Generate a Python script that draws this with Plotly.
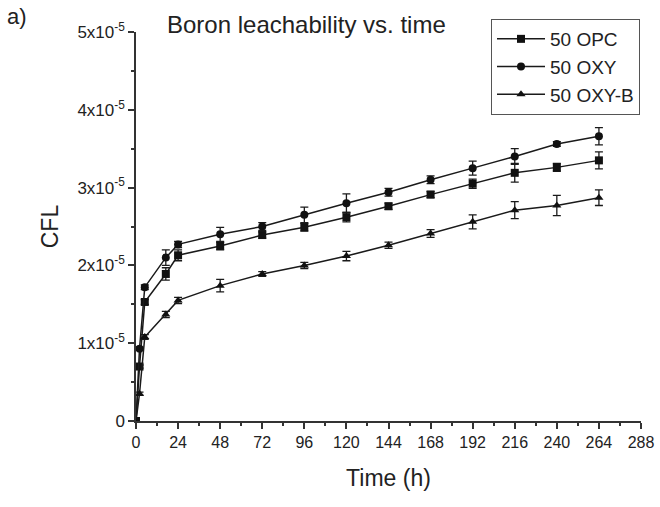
import plotly.graph_objects as go

time_h = [0, 2, 5, 17, 24, 48, 72, 96, 120, 144, 168, 192, 216, 240, 264]

opc = [0, 0.70, 1.53, 1.89, 2.13, 2.25, 2.39, 2.49, 2.62, 2.76, 2.91, 3.05, 3.19, 3.26, 3.35]
opc_err = [0, 0.02, 0.03, 0.08, 0.07, 0.05, 0.04, 0.05, 0.06, 0.04, 0.04, 0.06, 0.12, 0.05, 0.11]

oxy = [0, 0.93, 1.72, 2.10, 2.27, 2.40, 2.50, 2.65, 2.80, 2.94, 3.10, 3.25, 3.40, 3.56, 3.66]
oxy_err = [0, 0.02, 0.03, 0.10, 0.04, 0.09, 0.05, 0.10, 0.12, 0.05, 0.05, 0.09, 0.10, 0.03, 0.11]

oxyb = [0, 0.35, 1.08, 1.37, 1.55, 1.74, 1.89, 2.00, 2.12, 2.26, 2.41, 2.56, 2.71, 2.77, 2.87]
oxyb_err = [0, 0.02, 0.03, 0.04, 0.04, 0.08, 0.03, 0.04, 0.06, 0.04, 0.05, 0.09, 0.11, 0.13, 0.10]

scale = 1e-5
y_tickvals = [0, 1e-5, 2e-5, 3e-5, 4e-5, 5e-5]
y_ticktext = ["0", "1x10<sup>-5</sup>", "2x10<sup>-5</sup>", "3x10<sup>-5</sup>",
              "4x10<sup>-5</sup>", "5x10<sup>-5</sup>"]
x_tickvals = list(range(0, 289, 24))

series = [
    ("50 OPC", opc, opc_err, "square"),
    ("50 OXY", oxy, oxy_err, "circle"),
    ("50 OXY-B", oxyb, oxyb_err, "triangle-up"),
]

fig = go.Figure()
for name, vals, errs, sym in series:
    fig.add_trace(go.Scatter(
        x=time_h, y=[v * scale for v in vals], name=name,
        mode="lines+markers",
        line=dict(color="#1a1a1a", width=1.5),
        marker=dict(symbol=sym, size=8, color="#111111"),
        error_y=dict(type="data", array=[e * scale for e in errs], visible=True,
                     color="#1a1a1a", thickness=1.3, width=4),
    ))

font = "Liberation Sans, Arial, sans-serif"
L, R, T, B = 136, 19, 32, 86
W, H = 660, 507
pw, ph = W - L - R, H - T - B


def px(xp, yp):
    return (xp - L) / pw, (H - B - yp) / ph


lx, ly = px(640, 19)
tx, ty = px(306, 25)
ax_, ay_ = px(17, 16)

fig.update_layout(
    width=W, height=H,
    margin=dict(l=L, r=R, t=T, b=B),
    paper_bgcolor="white", plot_bgcolor="white",
    font=dict(family=font, color="#222222", size=16),
    showlegend=True,
    legend=dict(x=lx, y=ly, xanchor="right", yanchor="top",
                bordercolor="#555555", borderwidth=1, bgcolor="white",
                font=dict(size=19, family=font, color="#222222"),
                itemwidth=48, tracegroupgap=0),
    xaxis=dict(range=[0, 288], tickvals=x_tickvals, showgrid=False, zeroline=False,
               automargin=False,
               showline=True, linecolor="#333333", linewidth=1.5,
               ticks="outside", ticklen=6, tickwidth=1.5, tickcolor="#333333",
               minor=dict(dtick=12, ticks="outside", ticklen=3, tickcolor="#333333"),
               tickfont=dict(size=16),
               title=dict(text="Time (h)", font=dict(size=23), standoff=20)),
    yaxis=dict(range=[0, 5e-5], tickvals=y_tickvals, ticktext=y_ticktext,
               showgrid=False, zeroline=False, automargin=False,
               showline=True, linecolor="#333333", linewidth=1.5,
               ticks="outside", ticklen=6, tickwidth=1.5, tickcolor="#333333",
               minor=dict(dtick=0.5e-5, ticks="outside", ticklen=3, tickcolor="#333333"),
               tickfont=dict(size=17),
               title=dict(text="CFL", font=dict(size=23), standoff=12)),
    annotations=[
        dict(text="Boron leachability vs. time", x=tx, y=ty, xref="paper", yref="paper",
             xanchor="center", yanchor="middle", showarrow=False,
             font=dict(size=24, family=font, color="#222222")),
        dict(text="a)", x=ax_, y=ay_, xref="paper", yref="paper",
             xanchor="center", yanchor="middle", showarrow=False,
             font=dict(size=22, family=font, color="#222222")),
    ],
)

fig.write_html("out.html", config={"displayModeBar": False},
               post_script="document.body.style.margin='0';")
